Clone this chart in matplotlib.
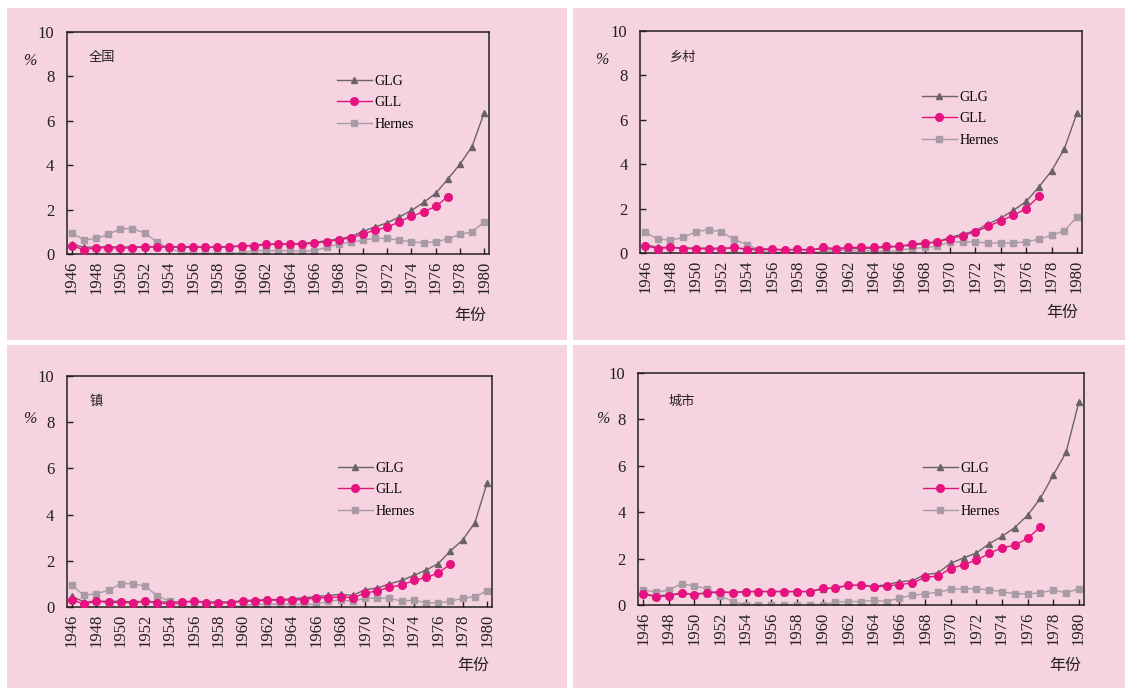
import matplotlib
matplotlib.use("Agg")
import matplotlib.pyplot as plt
from matplotlib.patches import Rectangle

plt.rcParams['font.family'] = ['Liberation Serif', 'Noto Sans CJK SC', 'DejaVu Sans']

years = list(range(1946, 1981))
years_gll = list(range(1946, 1978))

# 全国
glg_all = [0.45, 0.30, 0.32, 0.32, 0.32, 0.32, 0.32, 0.32, 0.32, 0.30, 0.30, 0.30,
           0.30, 0.32, 0.35, 0.38, 0.42, 0.45, 0.45, 0.48, 0.52, 0.60, 0.68, 0.78,
           1.02, 1.22, 1.40, 1.67, 1.96, 2.32, 2.73, 3.37, 4.04, 4.84, 6.36]
gll_all = [0.38, 0.19, 0.28, 0.28, 0.27, 0.27, 0.32, 0.32, 0.32, 0.32, 0.33, 0.30,
           0.32, 0.32, 0.38, 0.38, 0.45, 0.45, 0.45, 0.45, 0.50, 0.55, 0.65, 0.72,
           0.90, 1.08, 1.20, 1.45, 1.70, 1.90, 2.14, 2.58]
her_all = [0.96, 0.63, 0.70, 0.88, 1.14, 1.14, 0.95, 0.55, 0.26, 0.08, 0.02, 0.02,
           0.02, 0.02, 0.06, 0.15, 0.15, 0.15, 0.15, 0.12, 0.15, 0.30, 0.45, 0.52,
           0.63, 0.70, 0.70, 0.62, 0.55, 0.50, 0.55, 0.68, 0.88, 1.00, 1.45]

# 乡村
glg_rural = [0.38, 0.25, 0.25, 0.23, 0.22, 0.22, 0.22, 0.22, 0.20, 0.18, 0.18, 0.15,
             0.15, 0.15, 0.18, 0.18, 0.20, 0.20, 0.22, 0.25, 0.30, 0.35, 0.42, 0.50,
             0.70, 0.85, 1.00, 1.31, 1.57, 1.92, 2.32, 2.97, 3.70, 4.68, 6.30]
gll_rural = [0.33, 0.20, 0.25, 0.20, 0.20, 0.18, 0.18, 0.25, 0.15, 0.15, 0.18, 0.12,
             0.18, 0.12, 0.25, 0.20, 0.25, 0.25, 0.25, 0.30, 0.30, 0.40, 0.45, 0.50,
             0.65, 0.78, 0.95, 1.20, 1.45, 1.70, 2.00, 2.55]
her_rural = [0.94, 0.63, 0.58, 0.70, 0.95, 1.05, 0.95, 0.62, 0.38, 0.15, 0.05, 0.02,
             0.02, 0.02, 0.05, 0.12, 0.12, 0.08, 0.12, 0.05, 0.12, 0.20, 0.25, 0.30,
             0.50, 0.50, 0.50, 0.45, 0.45, 0.45, 0.50, 0.62, 0.80, 1.00, 1.62]

# 镇
glg_town = [0.46, 0.22, 0.25, 0.25, 0.25, 0.22, 0.25, 0.22, 0.22, 0.22, 0.25, 0.22,
            0.22, 0.22, 0.28, 0.30, 0.32, 0.32, 0.35, 0.40, 0.45, 0.50, 0.55, 0.50,
            0.75, 0.82, 1.00, 1.15, 1.37, 1.60, 1.88, 2.43, 2.90, 3.65, 5.38]
gll_town = [0.32, 0.12, 0.25, 0.20, 0.20, 0.18, 0.25, 0.18, 0.15, 0.20, 0.25, 0.18,
            0.18, 0.18, 0.25, 0.25, 0.30, 0.30, 0.30, 0.32, 0.40, 0.40, 0.45, 0.40,
            0.60, 0.70, 0.85, 0.95, 1.15, 1.28, 1.47, 1.86]
her_town = [0.95, 0.50, 0.58, 0.72, 1.01, 1.01, 0.90, 0.48, 0.25, 0.05, 0.0, 0.0,
            0.0, 0.0, 0.05, 0.12, 0.12, 0.12, 0.12, 0.12, 0.12, 0.25, 0.30, 0.25,
            0.38, 0.38, 0.38, 0.25, 0.30, 0.18, 0.18, 0.25, 0.38, 0.45, 0.70]

# 城市
glg_city = [0.50, 0.38, 0.45, 0.50, 0.48, 0.52, 0.55, 0.55, 0.58, 0.58, 0.58, 0.58,
            0.58, 0.58, 0.68, 0.75, 0.85, 0.85, 0.80, 0.88, 1.00, 1.05, 1.31, 1.38,
            1.80, 2.03, 2.24, 2.64, 2.96, 3.34, 3.87, 4.60, 5.60, 6.58, 8.75]
gll_city = [0.48, 0.35, 0.40, 0.50, 0.45, 0.52, 0.58, 0.52, 0.58, 0.58, 0.58, 0.58,
            0.58, 0.58, 0.72, 0.72, 0.85, 0.85, 0.78, 0.82, 0.88, 0.95, 1.19, 1.25,
            1.57, 1.74, 1.93, 2.22, 2.47, 2.57, 2.88, 3.36]
her_city = [0.66, 0.55, 0.65, 0.91, 0.82, 0.70, 0.40, 0.15, 0.02, 0.02, 0.0, 0.0,
            0.0, 0.02, 0.02, 0.12, 0.15, 0.15, 0.20, 0.15, 0.30, 0.42, 0.48, 0.55,
            0.67, 0.70, 0.70, 0.65, 0.58, 0.48, 0.48, 0.52, 0.65, 0.52, 0.70]

titles = ['全国', '乡村', '镇', '城市']
glg = [glg_all, glg_rural, glg_town, glg_city]
gll = [gll_all, gll_rural, gll_town, gll_city]
her = [her_all, her_rural, her_town, her_city]

W, H = 1125, 688
bg = '#f6d3e0'
c_glg = '#6b6268'
c_gll = '#e5127f'
c_her = '#a99ba4'
ink = '#231f20'

fig = plt.figure(figsize=(W / 100, H / 100), dpi=100, facecolor='white')

def fx(px):
    return px / W

def fy(py):
    return 1 - py / H

# pink panels (pixel boxes: left, top, right, bottom)
panels = [(7, 8, 567, 340), (573, 8, 1125, 340), (7, 345, 567, 688), (573, 345, 1125, 688)]
for l, t, r, b in panels:
    fig.patches.append(Rectangle((fx(l), fy(b)), fx(r - l), (b - t) / H,
                                 transform=fig.transFigure, facecolor=bg,
                                 edgecolor='none', zorder=-5))

# axes boxes in pixels
boxes = [(67, 32, 489, 254), (640, 31, 1082, 253), (67, 376, 492, 607), (638, 373, 1084, 605)]
legend_pos = [(337, 75), (922, 91), (338, 462), (923, 462)]
title_pos = [(102, 57), (682, 57), (96, 401), (682, 401)]
pct_pos = [(30, 61), (602, 60), (30, 419), (603, 419)]
year_pos = [(470, 315), (1062, 312), (473, 665), (1065, 665)]

for i in range(4):
    l, t, r, b = boxes[i]
    ax = fig.add_axes([fx(l), fy(b), fx(r - l), (b - t) / H])
    ax.set_facecolor('none')
    ax.plot(years, glg[i], color=c_glg, lw=1.0, marker='^', ms=5, label='GLG', zorder=3)
    ax.plot(years_gll, gll[i], color=c_gll, lw=1.0, marker='o', ms=5.5, label='GLL', zorder=4)
    ax.plot(years, her[i], color=c_her, lw=1.0, marker='s', ms=5, label='Hernes', zorder=2)
    ax.set_xlim(1945.6, 1980.4)
    ax.set_ylim(0, 10)
    ax.set_yticks([0, 2, 4, 6, 8, 10])
    ax.set_xticks(list(range(1946, 1981, 2)))
    ax.set_xticklabels([str(y) for y in range(1946, 1981, 2)], rotation=90)
    ax.tick_params(axis='x', direction='in', length=4, width=1, labelsize=12, pad=5,
                   colors=ink)
    ax.tick_params(axis='y', direction='in', length=4, width=1, labelsize=12, pad=9,
                   colors=ink)
    for s in ax.spines.values():
        s.set_color(ink)
        s.set_linewidth(1.1)

    lx, ly = legend_pos[i]
    fig.legend(handles=ax.get_lines(), loc='upper left',
               bbox_to_anchor=(fx(lx), fy(ly)), frameon=False, fontsize=10,
               handlelength=2.5, handletextpad=0.2, labelspacing=0.6,
               borderpad=0, borderaxespad=0)

    fig.text(fx(title_pos[i][0]), fy(title_pos[i][1]), titles[i], fontsize=9.5,
             family=['Noto Sans CJK SC'], ha='center', va='center', color=ink)
    fig.text(fx(pct_pos[i][0]), fy(pct_pos[i][1]), '%', fontsize=11.5, style='italic',
             ha='center', va='center', color=ink)
    fig.text(fx(year_pos[i][0]), fy(year_pos[i][1]), '年份', fontsize=11.5,
             family=['Noto Sans CJK SC'], ha='center', va='center', color=ink)

fig.savefig('out.png', dpi=100, facecolor='white')
